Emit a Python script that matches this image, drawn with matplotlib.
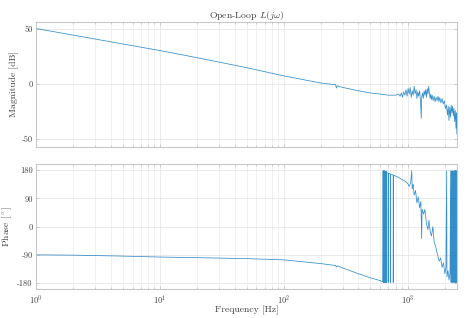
import numpy as np
import matplotlib
matplotlib.use("Agg")
import matplotlib.pyplot as plt

plt.rcParams['font.family'] = 'serif'
plt.rcParams['font.serif'] = ['cmr10', 'DejaVu Serif']
plt.rcParams['mathtext.fontset'] = 'cm'
plt.rcParams['axes.unicode_minus'] = False

BLUE = '#0072BD'

# magnitude
mag_f = [1, 2, 5, 10, 20, 50, 100, 200, 262, 266, 270, 300, 400, 500, 600, 700, 800,
         850, 870, 890, 910, 930, 950, 970, 990, 1010, 1030, 1050, 1070, 1090, 1110,
         1130, 1150, 1170, 1190, 1210, 1230, 1250, 1270, 1290, 1300, 1320, 1340, 1360,
         1380, 1400, 1420, 1440, 1460, 1480, 1500, 1520, 1540, 1560, 1580, 1610, 1640,
         1670, 1700, 1730, 1760, 1790, 1820, 1860, 1900, 1940, 1980, 2020, 2060, 2100,
         2130, 2160, 2190, 2220, 2250, 2280, 2310, 2340, 2370, 2400, 2430, 2460, 2480, 2500]
mag_db = [50.5, 44.5, 36.5, 30.5, 24, 15, 7.5, 1, -0.5, -3.5, -1.5, -3, -6, -8, -9, -10, -10,
          -9, -11, -8, -12, -7, -10, -5, -11, -4, -9, -3, -12, -6, -10,
          -2, -9, -5, -13, -7, -11, -6, -14, -31, -12, -8, -13, -6,
          -10, -5, -12, -4, -9, -2, -8, -13, -9, -14, -10, -15, -11,
          -16, -12, -15, -11, -16, -12, -17, -13, -18, -15, -22, -19, -28,
          -20, -33, -21, -30, -19, -26, -20, -29, -22, -34, -24, -40, -26, -45]

# phase
ph_f = [1, 2, 5, 10, 20, 50, 100, 200, 262, 266, 270, 300, 400, 500, 600, 630,
        634, 637, 640, 643, 646, 649, 652, 655, 658, 661, 664, 667, 670, 673, 676,
        680, 696, 697, 700, 727, 728, 730, 765, 766, 770, 800, 850, 900, 950, 1000,
        1030, 1060, 1080, 1090, 1110, 1130, 1160, 1190, 1220, 1250, 1280, 1300, 1310,
        1350, 1380, 1420, 1460, 1490, 1520, 1560, 1600, 1640, 1680, 1720, 1760, 1800,
        1850, 1900, 1950, 2000, 2040, 2070, 2080, 2120, 2160, 2200, 2230, 2245, 2260,
        2275, 2290, 2305, 2320, 2335, 2350, 2365, 2380, 2395, 2410, 2425, 2440, 2455,
        2470, 2485, 2500]
ph_deg = [-90, -91, -94, -97, -99, -102, -106, -118, -124, -129, -125, -132, -150, -163, -172, -176,
          178, -178, 176, -177, 178, -178, 177, -176, 176, -179, 177, -175, 176, -178, 174,
          172, 170, -178, 170, 167, -178, 167, 164, -178, 164, 161, 156, 150, 145, 138,
          128, 140, 178, 120, 135, 100, 115, 75, 95, 60, 80, -38, 55,
          40, 55, 10, -10, 20, -15, -30, 0, -50, -60, -80, -95, -110,
          -100, -130, -115, -150, -130, 178, -160, -140, -170, -150, 178, -178, 176,
          -176, 178, -179, 175, -178, 177, -175, 178, -177, 176, -179, 178, -176,
          177, -178, 178]

xlim = (1, 2500)
xticks = [1, 10, 100, 1000]
xtick_labels = ['$10^0$', '$10^1$', '$10^2$', '$10^3$']
mag_ticks = [-50, 0, 50]
ph_ticks = [-180, -90, 0, 90, 180]

fig = plt.figure(figsize=(4.7, 3.18), dpi=100)
ax1 = fig.add_axes([0.077, 0.538, 0.895, 0.393])
ax2 = fig.add_axes([0.077, 0.09, 0.895, 0.394])


def style(ax):
    ax.set_xscale('log')
    ax.set_xlim(*xlim)
    ax.grid(True, which='major', color='#e2e2e2', lw=0.5)
    ax.grid(True, which='minor', axis='x', color='#ececec', lw=0.5)
    for s in ax.spines.values():
        s.set_color('#c8c8c8')
        s.set_linewidth(0.8)
    ax.tick_params(which='both', direction='in', length=2, width=0.4, color='#b0b0b0',
                   labelsize=6, labelcolor='#404040', top=True, right=True, pad=2.5)
    ax.tick_params(which='minor', length=1.2)
    ax.set_xticks(xticks)


ax1.plot(mag_f, mag_db, color=BLUE, lw=0.55, alpha=0.8)
style(ax1)
ax1.set_xticklabels([])
ax1.set_ylim(-57, 56.5)
ax1.set_yticks(mag_ticks)
ax1.set_yticklabels([str(t) for t in mag_ticks])
ax1.set_ylabel('Magnitude [dB]', fontsize=7, color='#404040', labelpad=2)
ax1.set_title('Open-Loop $L(j\\omega)$', fontsize=7, color='#404040', pad=3)

ax2.plot(ph_f, ph_deg, color=BLUE, lw=0.55, alpha=0.8)
style(ax2)
ax2.set_xticklabels(xtick_labels)
ax2.set_ylim(-200, 199)
ax2.set_yticks(ph_ticks)
ax2.set_yticklabels([str(t) for t in ph_ticks])
ax2.set_ylabel('Phase [$^\\circ$]', fontsize=7, color='#404040', labelpad=2)
ax2.set_xlabel('Frequency [Hz]', fontsize=7, color='#404040', labelpad=0)

fig.savefig('out.png', dpi=100)
